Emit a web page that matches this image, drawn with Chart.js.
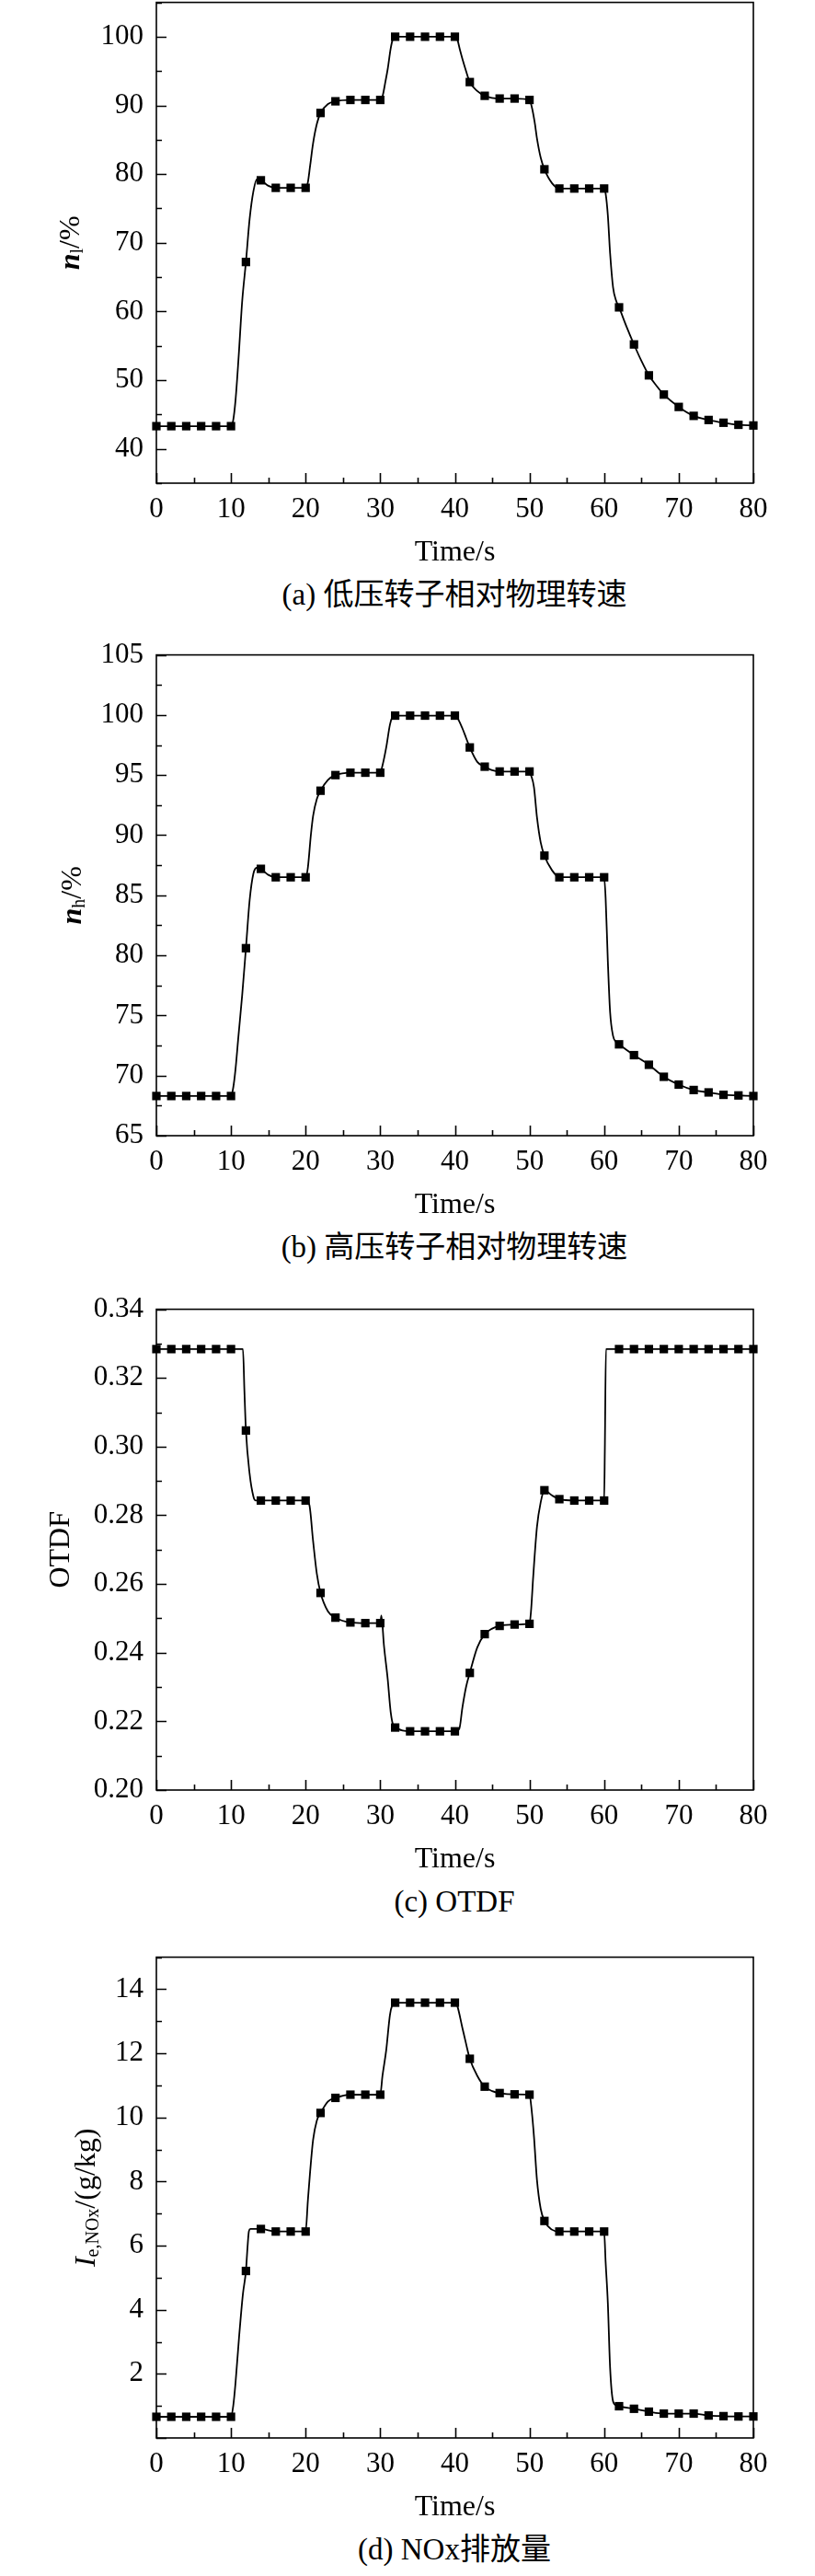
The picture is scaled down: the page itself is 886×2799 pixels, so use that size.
<!DOCTYPE html>
<html>
<head>
<meta charset="utf-8">
<script src="https://cdn.jsdelivr.net/npm/chart.js@4.4.0/dist/chart.umd.min.js"></script>
<style>
  html, body { margin: 0; padding: 0; background: #fff; }
  #page { position: relative; width: 886px; height: 2799px; overflow: hidden; background: #fff; }
  .panel { position: absolute; left: 0; }
  .caption {
    position: absolute; left: 494px; transform: translateX(-50%);
    white-space: nowrap; color: #000; font-size: 33px; line-height: 40px;
    font-family: 'Liberation Serif', 'Noto Sans CJK SC', serif;
  }
</style>
</head>
<body>
<div id="page">
  <canvas id="chartA" class="panel" width="886" height="650" style="top:-30px"></canvas>
  <canvas id="chartB" class="panel" width="886" height="650" style="top:679px"></canvas>
  <canvas id="chartC" class="panel" width="886" height="650" style="top:1390px"></canvas>
  <canvas id="chartD" class="panel" width="886" height="650" style="top:2094px"></canvas>
  <div class="caption" style="top:626px">(a) 低压转子相对物理转速</div>
  <div class="caption" style="top:1335px">(b) 高压转子相对物理转速</div>
  <div class="caption" style="top:2046px">(c) OTDF</div>
  <div class="caption" style="top:2750px">(d) NOx排放量</div>
</div>
<script>
// marker times, one square every 2 s
const markerTime = [0, 2, 4, 6, 8, 10, 12, 14, 16, 18, 20, 22, 24, 26, 28, 30, 32, 34, 36, 38, 40,
  42, 44, 46, 48, 50, 52, 54, 56, 58, 60, 62, 64, 66, 68, 70, 72, 74, 76, 78, 80];

// (a) low pressure rotor speed
const lowMarkers = [43.3, 43.3, 43.3, 43.3, 43.3, 43.3, 67.2, 79.1, 78.0, 78.0, 78.0, 88.9, 90.6, 90.8, 90.8, 90.8,
  100, 100, 100, 100, 100, 93.4, 91.4, 91.0, 91.0, 90.8, 80.7, 77.9, 77.9, 77.9, 77.9,
  60.6, 55.2, 50.7, 47.9, 46.1, 44.8, 44.2, 43.8, 43.5, 43.4];
const lowCurveTime = [0, 2, 4, 6, 8, 10, 10.3, 10.6, 11, 11.5, 12, 12.5, 13, 13.5, 14, 15, 16, 18, 20,
  20.3, 20.6, 21, 21.5, 22, 23, 24, 26, 28, 30, 30.3, 30.7, 31, 31.4, 31.7, 32, 34, 36, 38, 40,
  40.3, 40.7, 41, 41.5, 42, 43, 44, 46, 48, 50, 50.3, 50.7, 51, 51.5, 52, 53, 54, 56, 58, 60,
  60.2, 60.5, 60.8, 61.2, 61.6, 62, 63, 64, 65, 66, 67, 68, 70, 72, 74, 76, 78, 80];
const lowCurveValue = [43.3, 43.3, 43.3, 43.3, 43.3, 43.3, 44.2, 47, 53, 61.5, 67.2, 73.5, 77.5, 79.3, 79.1, 78.3, 78.0, 78.0, 78.0,
  78.8, 81.2, 84.5, 87.3, 88.9, 90.2, 90.6, 90.8, 90.8, 90.8, 91.3, 93.5, 95.3, 98.3, 99.7, 100, 100, 100, 100, 100,
  99.7, 98.0, 96.8, 95.0, 93.4, 92.1, 91.4, 91.0, 91.0, 90.8, 89.8, 87.5, 85.2, 82.4, 80.7, 78.7, 77.9, 77.9, 77.9, 77.9,
  77.2, 74.0, 68.5, 63.5, 61.6, 60.6, 57.8, 55.2, 52.8, 50.7, 49.2, 47.9, 46.1, 44.8, 44.2, 43.8, 43.5, 43.4];

// (b) high pressure rotor speed
const highMarkers = [68.3, 68.3, 68.3, 68.3, 68.3, 68.3, 80.6, 87.2, 86.5, 86.5, 86.5, 93.7, 95.0, 95.2, 95.2, 95.2,
  99.95, 99.95, 99.95, 99.95, 99.95, 97.3, 95.7, 95.3, 95.3, 95.3, 88.3, 86.5, 86.5, 86.5, 86.5,
  72.6, 71.7, 70.9, 69.9, 69.25, 68.8, 68.6, 68.4, 68.35, 68.3];
const highCurveTime = [0, 2, 4, 6, 8, 10, 10.3, 10.6, 11, 11.5, 12, 12.5, 13, 13.5, 14, 15, 16, 18, 20,
  20.3, 20.7, 21, 21.5, 22, 23, 24, 26, 28, 30, 30.3, 30.8, 31.3, 31.6, 32, 34, 36, 38, 40,
  40.3, 41, 41.5, 42, 43, 44, 45, 46, 48, 50, 50.2, 50.6, 51, 51.5, 52, 53, 54, 56, 58, 60,
  60.2, 60.5, 60.8, 61.2, 61.6, 62, 64, 66, 68, 70, 72, 74, 76, 78, 80];
const highCurveValue = [68.3, 68.3, 68.3, 68.3, 68.3, 68.3, 69.0, 70.5, 73.3, 76.7, 80.6, 84.6, 86.8, 87.3, 87.2, 86.7, 86.5, 86.5, 86.5,
  87.3, 90.0, 91.6, 93.0, 93.7, 94.6, 95.0, 95.2, 95.2, 95.2, 95.8, 97.3, 99.2, 99.8, 99.95, 99.95, 99.95, 99.95, 99.95,
  99.8, 98.9, 98.1, 97.3, 96.1, 95.7, 95.4, 95.3, 95.3, 95.3, 95.0, 94.0, 91.5, 89.4, 88.3, 87.1, 86.5, 86.5, 86.5, 86.5,
  84.8, 79.5, 75.3, 73.3, 72.8, 72.6, 71.7, 70.9, 69.9, 69.25, 68.8, 68.6, 68.4, 68.35, 68.3];

// (c) OTDF
const otdfMarkers = [0.3284, 0.3284, 0.3284, 0.3284, 0.3284, 0.3284, 0.3047, 0.2843, 0.2843, 0.2843, 0.2843,
  0.2574, 0.2502, 0.2488, 0.2486, 0.2486, 0.2182, 0.2171, 0.2171, 0.2171, 0.2171,
  0.2341, 0.2454, 0.2478, 0.2482, 0.2484, 0.2873, 0.2847, 0.2843, 0.2843, 0.2843,
  0.3284, 0.3284, 0.3284, 0.3284, 0.3284, 0.3284, 0.3284, 0.3284, 0.3284, 0.3284];
const otdfCurveTime = [0, 2, 4, 6, 8, 10, 11, 11.6, 11.8, 12, 12.5, 13, 13.3, 14, 16, 18, 20,
  20.5, 21, 21.5, 22, 23, 24, 26, 28, 30, 30.15, 30.5, 31, 31.4, 31.8, 32, 33, 34, 36, 38, 40,
  40.6, 41, 41.5, 42, 43, 44, 45, 46, 48, 50, 50.2, 50.5, 51, 51.5, 52, 53, 54, 56, 58, 60,
  60.1, 60.25, 62, 64, 66, 68, 70, 72, 74, 76, 78, 80];
const otdfCurveValue = [0.3284, 0.3284, 0.3284, 0.3284, 0.3284, 0.3284, 0.3284, 0.3284, 0.316, 0.3047, 0.292, 0.2855, 0.2843,
  0.2843, 0.2843, 0.2843, 0.2843,
  0.2830, 0.2725, 0.2630, 0.2574, 0.2520, 0.2502, 0.2488, 0.2486, 0.2486, 0.2508, 0.2420, 0.2323, 0.2227, 0.2185,
  0.2182, 0.2173, 0.2171, 0.2171, 0.2171, 0.2171,
  0.2179, 0.2239, 0.2300, 0.2341, 0.2415, 0.2454, 0.2470, 0.2478, 0.2482, 0.2484, 0.2520, 0.2622, 0.2766, 0.2838,
  0.2873, 0.2858, 0.2847, 0.2843, 0.2843, 0.2843,
  0.3000, 0.3284, 0.3284, 0.3284, 0.3284, 0.3284, 0.3284, 0.3284, 0.3284, 0.3284, 0.3284, 0.3284];

// (d) NOx emission index
const noxMarkers = [0.66, 0.66, 0.66, 0.66, 0.66, 0.66, 5.21, 6.52, 6.44, 6.44, 6.44, 10.14, 10.61, 10.71, 10.71, 10.71,
  13.58, 13.58, 13.58, 13.58, 13.58, 11.83, 10.96, 10.76, 10.72, 10.71, 6.77, 6.44, 6.44, 6.44, 6.44,
  0.99, 0.91, 0.82, 0.76, 0.76, 0.76, 0.70, 0.68, 0.67, 0.67];
const noxCurveTime = [0, 2, 4, 6, 8, 10, 10.3, 10.6, 11.1, 11.6, 12, 12.2, 12.4, 12.6, 14, 16, 18, 20,
  20.3, 20.6, 21, 21.5, 22, 23, 24, 26, 28, 30, 30.3, 30.8, 31.3, 31.6, 32, 34, 36, 38, 40,
  40.3, 41, 41.5, 42, 43, 44, 45, 46, 48, 50, 50.3, 50.6, 51, 51.5, 52, 53, 54, 56, 58, 60,
  60.2, 60.5, 60.8, 61.2, 61.6, 62, 64, 66, 68, 70, 72, 74, 76, 78, 80];
const noxCurveValue = [0.66, 0.66, 0.66, 0.66, 0.66, 0.66, 1.0, 1.7, 3.2, 4.5, 5.21, 5.9, 6.45, 6.52, 6.52, 6.44, 6.44, 6.44,
  7.4, 8.3, 9.3, 9.9, 10.14, 10.5, 10.61, 10.71, 10.71, 10.71, 11.3, 12.1, 13.2, 13.5, 13.58, 13.58, 13.58, 13.58, 13.58,
  13.5, 12.8, 12.3, 11.83, 11.3, 10.96, 10.82, 10.76, 10.72, 10.71, 10.2, 9.4, 8.05, 7.15, 6.77, 6.5, 6.44, 6.44, 6.44, 6.44,
  5.5, 4.2, 2.2, 1.14, 1.02, 0.99, 0.91, 0.82, 0.76, 0.76, 0.76, 0.70, 0.68, 0.67, 0.67];

const SERIF = "'Liberation Serif', 'Times New Roman', serif";
Chart.defaults.font.family = SERIF;
Chart.defaults.color = '#000';

const toPoints = (xs, ys) => xs.map((x, i) => ({ x: x, y: ys[i] }));
const isMultiple = (v, step) => Math.abs(v / step - Math.round(v / step)) < 1e-6;

// box round the plot plus short inward ticks, like the original figure
const frameTicks = {
  id: 'frameTicks',
  afterDatasetsDraw(chart, args, opts) {
    const { ctx, chartArea: a, scales: { x, y } } = chart;
    ctx.save();
    ctx.strokeStyle = '#000';
    ctx.lineWidth = 1.6;
    ctx.strokeRect(a.left, a.top, a.right - a.left, a.bottom - a.top);
    ctx.beginPath();
    let n = Math.round((x.max - x.min) / opts.xMinor);
    for (let i = 0; i <= n; i++) {
      const v = x.min + i * opts.xMinor;
      const len = isMultiple(v, opts.xMajor) ? 11 : 6;
      const px = Math.round(x.getPixelForValue(v)) + 0.5;
      ctx.moveTo(px, a.bottom);
      ctx.lineTo(px, a.bottom - len);
    }
    n = Math.round((y.max - y.min) / opts.yMinor);
    for (let i = 0; i <= n; i++) {
      const v = y.min + i * opts.yMinor;
      const len = isMultiple(v, opts.yMajor) ? 11 : 6;
      const py = Math.round(y.getPixelForValue(v)) + 0.5;
      ctx.moveTo(a.left, py);
      ctx.lineTo(a.left + len, py);
    }
    ctx.stroke();
    ctx.restore();
  },
  afterDraw(chart, args, opts) {
    // rotated y title made of parts (italic symbol, subscript, unit)
    const { ctx, chartArea: a } = chart;
    const parts = opts.title;
    ctx.save();
    let total = 0;
    parts.forEach(p => { ctx.font = p.font; total += ctx.measureText(p.text).width; });
    ctx.translate(opts.titleX, (a.top + a.bottom) / 2);
    ctx.rotate(-Math.PI / 2);
    ctx.fillStyle = '#000';
    ctx.textBaseline = 'middle';
    ctx.textAlign = 'left';
    let cx = -total / 2;
    parts.forEach(p => {
      ctx.font = p.font;
      ctx.fillText(p.text, cx, p.sub ? 7 : 0);
      cx += ctx.measureText(p.text).width;
    });
    ctx.restore();
  }
};

function makeChart(id, curve, markers, axis) {
  return new Chart(document.getElementById(id), {
    type: 'line',
    data: {
      datasets: [
        {
          data: curve,
          borderColor: '#000',
          borderWidth: 1.8,
          pointRadius: 0,
          cubicInterpolationMode: 'monotone',
          fill: false
        },
        {
          data: markers,
          showLine: false,
          pointStyle: 'rect',
          pointRadius: 6.5,
          pointBackgroundColor: '#000',
          pointBorderColor: '#000',
          pointBorderWidth: 0,
          clip: false
        }
      ]
    },
    options: {
      responsive: false,
      animation: false,
      devicePixelRatio: 1,
      layout: { padding: { top: 30, right: 67, left: 0, bottom: 0 } },
      plugins: {
        legend: { display: false },
        tooltip: { enabled: false },
        frameTicks: {
          xMajor: 10, xMinor: 5,
          yMajor: axis.major, yMinor: axis.minor,
          title: axis.title, titleX: axis.titleX
        }
      },
      scales: {
        x: {
          type: 'linear', min: 0, max: 80,
          grid: { display: false, drawTicks: false },
          border: { display: false },
          ticks: { stepSize: 10, autoSkip: false, maxRotation: 0, padding: 10, color: '#000', font: { size: 31 } },
          title: { display: true, text: 'Time/s', color: '#000', font: { size: 32 }, padding: 0 },
          afterFit(s) { s.height = 95; }
        },
        y: {
          type: 'linear', min: axis.min, max: axis.max,
          grid: { display: false, drawTicks: false },
          border: { display: false },
          ticks: {
            stepSize: axis.step, autoSkip: false, padding: 14, color: '#000', font: { size: 31 },
            callback: axis.label
          },
          afterFit(s) { s.width = 170; }
        }
      }
    },
    plugins: [frameTicks]
  });
}

const sym = 'italic bold 32px ' + SERIF;
const italic = 'italic 32px ' + SERIF;
const reg = '32px ' + SERIF;
const sub = '20px ' + SERIF;

makeChart('chartA', toPoints(lowCurveTime, lowCurveValue), toPoints(markerTime, lowMarkers), {
  min: 35, max: 105, step: 5, major: 10, minor: 5, titleX: 78,
  label: v => (isMultiple(v, 10) ? String(v) : ''),
  title: [{ text: 'n', font: sym }, { text: 'l', font: sub, sub: true }, { text: '/%', font: reg }]
});

makeChart('chartB', toPoints(highCurveTime, highCurveValue), toPoints(markerTime, highMarkers), {
  min: 65, max: 105, step: 5, major: 5, minor: 2.5, titleX: 80,
  label: v => String(v),
  title: [{ text: 'n', font: sym }, { text: 'h', font: sub, sub: true }, { text: '/%', font: reg }]
});

makeChart('chartC', toPoints(otdfCurveTime, otdfCurveValue), toPoints(markerTime, otdfMarkers), {
  min: 0.20, max: 0.34, step: 0.02, major: 0.02, minor: 0.01, titleX: 67,
  label: v => v.toFixed(2),
  title: [{ text: 'OTDF', font: reg }]
});

makeChart('chartD', toPoints(noxCurveTime, noxCurveValue), toPoints(markerTime, noxMarkers), {
  min: 0, max: 15, step: 1, major: 2, minor: 1, titleX: 95,
  label: v => (v > 0 && isMultiple(v, 2) ? String(v) : ''),
  title: [{ text: 'I', font: italic }, { text: 'e,NOx', font: sub, sub: true }, { text: '/(g/kg)', font: reg }]
});
</script>
</body>
</html>
